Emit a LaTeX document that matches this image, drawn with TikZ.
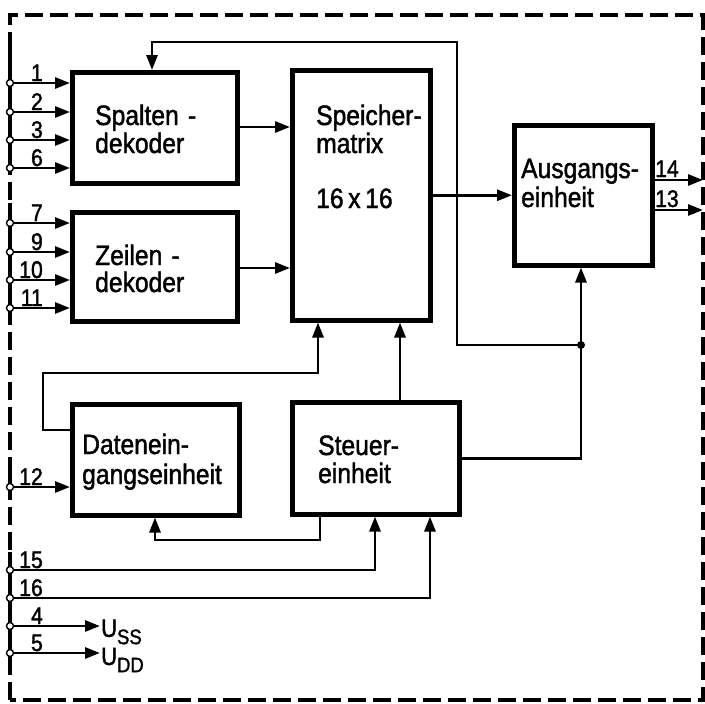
\documentclass[tikz,border=0pt]{standalone}
\usepackage{fontspec}
\setmainfont{Liberation Sans}
\newfontfamily\dinfont[FakeStretch=0.88, FakeBold=1.5]{Liberation Sans}
\usetikzlibrary{arrows.meta}
\begin{document}
\begin{tikzpicture}[x=1pt,y=-1pt,
  box/.style={draw, line width=4.5pt, anchor=north west, inner sep=0pt},
  conn/.style={line width=2.8pt},
  arr/.style={conn, -{Triangle[length=15pt,width=11pt]}},
  txt/.style={anchor=base west, inner sep=0pt, font=\dinfont\fontsize{28}{30}\selectfont},
  num/.style={anchor=base east, inner sep=0pt, font=\dinfont\fontsize{24}{26}\selectfont},
  pinc/.style={circle, draw, line width=1.4pt, fill=white, minimum size=7pt, inner sep=0pt},
  frame/.style={line width=3.5pt, dash pattern=on 18pt off 7pt},
  solidframe/.style={line width=3.5pt},
  dot/.style={circle, fill, minimum size=8pt, inner sep=0pt}]
\useasboundingbox (0,0) rectangle (705,704);
\fill[white] (0,0) rectangle (705,704);

% frame
\draw[frame] (10,700) -- (10,15) -- (703,15) -- (703,700) -- cycle;
\draw[solidframe] (10,50) -- (10,172);
\draw[solidframe] (10,203) -- (10,322);
\draw[solidframe] (10,470) -- (10,500);
\draw[solidframe] (10,552) -- (10,668);

% boxes
\node[box, minimum width=165pt, minimum height=111pt] (sd) at (70,70) {};
\node[box, minimum width=165pt, minimum height=109pt] (zd) at (70,210) {};
\node[box, minimum width=138pt, minimum height=250pt] (sm) at (290,68) {};
\node[box, minimum width=138pt, minimum height=140pt] (ae) at (512,123) {};
\node[box, minimum width=167pt, minimum height=111pt] (de) at (70,402) {};
\node[box, minimum width=167pt, minimum height=112pt] (st) at (290,400) {};

% box texts
\node[txt] (t1) at (95,125) {Spalten\,\,-};
\node[txt] (t2) at (95,153) {dekoder};
\node[txt] (t3) at (95,265) {Zeilen\,\,-};
\node[txt] (t4) at (95,292) {dekoder};
\node[txt] (t5) at (316,125) {Speicher-};
\node[txt] (t6) at (316,153) {matrix};
\node[txt] (t7) at (316,208) {16\,x\,16};
\node[txt] (t8) at (521,178) {Ausgangs-};
\node[txt] (t9) at (521,207) {einheit};
\node[txt] (t10) at (82,454) {Datenein-};
\node[txt] (t11) at (82,484) {gangseinheit};
\node[txt] (t12) at (318,455) {Steuer-};
\node[txt] (t13) at (318,483) {einheit};

% pins
\foreach \n/\y in {1/83, 2/112, 3/140, 6/168, 7/223, 9/252, 10/280, 11/308, 12/487, 15/570, 16/598, 4/626, 5/653}{
  \node[pinc] (p\n) at (10,\y) {};
  \node[num] (l\n) at (43,\y-2) {\n};
}

% inputs to decoders
\foreach \n in {1,2,3,6}{ \draw[arr] (p\n) -- (sd.west |- p\n); }
\foreach \n in {7,9,10,11}{ \draw[arr] (p\n) -- (zd.west |- p\n); }
\draw[arr] (p12) -- (de.west |- p12);

% supply
\node[anchor=west, inner sep=1pt, font=\dinfont\fontsize{25}{26}\selectfont] (uss) at (100,632) {U\raisebox{-0.55ex}{\fontsize{21}{21}\selectfont SS}};
\node[anchor=west, inner sep=1pt, font=\dinfont\fontsize{25}{26}\selectfont] (udd) at (100,660) {U\raisebox{-0.55ex}{\fontsize{21}{21}\selectfont DD}};
\draw[arr] (p4) -- (uss.west |- p4);
\draw[arr] (p5) -- (udd.west |- p5);

% decoders to matrix
\coordinate (ysd) at (0,127);
\coordinate (yzd) at (0,268);
\draw[arr] (sd.east |- ysd) -- (sm.west |- ysd);
\draw[arr] (zd.east |- yzd) -- (sm.west |- yzd);

% matrix to output unit
\draw[arr] (sm.east) -- (ae.west);

% outputs
\coordinate (o14) at (703,180);
\coordinate (o13) at (703,210);
\draw[arr] (ae.east |- o14) -- (o14);
\draw[arr] (ae.east |- o13) -- (o13);
\node[anchor=base west, inner sep=0pt, font=\dinfont\fontsize{24}{26}\selectfont] (l14) at (655,177) {14};
\node[anchor=base west, inner sep=0pt, font=\dinfont\fontsize{24}{26}\selectfont] (l13) at (655,207) {13};

% control unit to output unit and feedback
\node[dot] (j) at (581,345) {};
\coordinate (fb1) at (457,345);
\coordinate (fb2) at (457,42);
\coordinate (fb3) at (152,42);
\draw[conn] (st.east) -| (j.center);
\draw[arr] (j.center) -- (ae.south -| j);
\draw[arr] (j.center) -- (fb1) -- (fb2) -- (fb3) -- (sd.north -| fb3);

% control unit to matrix
\coordinate (xa) at (400,0);
\draw[arr] (st.north -| xa) -- (sm.south -| xa);

% data input unit to matrix
\coordinate (d1) at (43,430);
\coordinate (d2) at (43,373);
\coordinate (d3) at (318,373);
\draw[arr] (de.west |- d1) -- (d1) -- (d2) -- (d3) -- (sm.south -| d3);

% control unit to data input unit
\coordinate (s1) at (320,540);
\coordinate (s2) at (155,540);
\draw[arr] (st.south -| s1) -- (s1) -- (s2) -- (de.south -| s2);

% pins 15, 16 to control unit
\coordinate (c15) at (375,570);
\coordinate (c16) at (430,598);
\draw[arr] (p15) -- (c15) -- (st.south -| c15);
\draw[arr] (p16) -- (c16) -- (st.south -| c16);
\end{tikzpicture}
\end{document}
